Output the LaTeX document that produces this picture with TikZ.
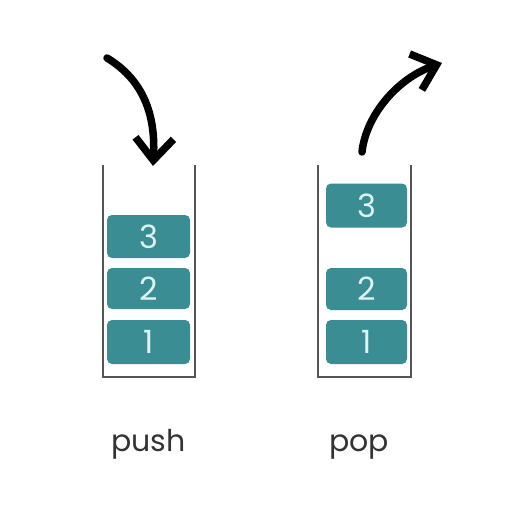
\documentclass[tikz,border=0pt]{standalone}
\usepackage{fontspec}
\setmainfont{Poppins}
\usetikzlibrary{arrows.meta}
\definecolor{teal1}{HTML}{3A8D92}
\definecolor{digit}{HTML}{DDF3F2}
\definecolor{wall}{HTML}{555555}
\definecolor{lab}{HTML}{333333}
\begin{document}
\begin{tikzpicture}[x=1pt,y=-1pt,
  wallline/.style={draw=wall,line width=2pt},
  item/.style={fill=teal1,rounded corners=5pt,inner sep=0pt,text=digit,font=\fontsize{32}{32}\selectfont},
  curvearrow/.style={line width=7.5pt,line cap=round,-{Straight Barb[length=22pt,width=38pt,line width=7.5pt]}},
  lbl/.style={text=lab,font=\fontsize{30}{30}\selectfont,anchor=base}]
\useasboundingbox (0,0) rectangle (512,512);
\fill[white] (0,0) rectangle (512,512);
% left stack
\draw[wallline] (103,165) -- (103,377) -- (195,377) -- (195,165);
\node[item,minimum width=83pt,minimum height=43pt] (l3) at (148.5,236.5) {3};
\node[item,minimum width=83pt,minimum height=41pt] (l2) at (148.5,288.5) {2};
\node[item,minimum width=83pt,minimum height=44pt] (l1) at (148.5,342) {1};
% right stack
\draw[wallline] (318,165) -- (318,377) -- (411,377) -- (411,165);
\node[item,minimum width=81pt,minimum height=44pt] (r3) at (366.5,205.5) {3};
\node[item,minimum width=81pt,minimum height=42pt] (r2) at (366.5,289) {2};
\node[item,minimum width=81pt,minimum height=44pt] (r1) at (366.5,342) {1};
% arrows
\coordinate (ps) at (107,58);
\coordinate (pe) at (153,166);
\draw[curvearrow] (ps) .. controls (140,78) and (156,110) .. (pe);
\coordinate (qs) at (362,152);
\coordinate (qe) at (442,63);
\draw[curvearrow] (qs) .. controls (366,115) and (398,78) .. (qe);
% labels
\node[lbl] (push) at (148.5,451) {push};
\node[lbl] (pop) at (359,451) {pop};
\end{tikzpicture}
\end{document}
